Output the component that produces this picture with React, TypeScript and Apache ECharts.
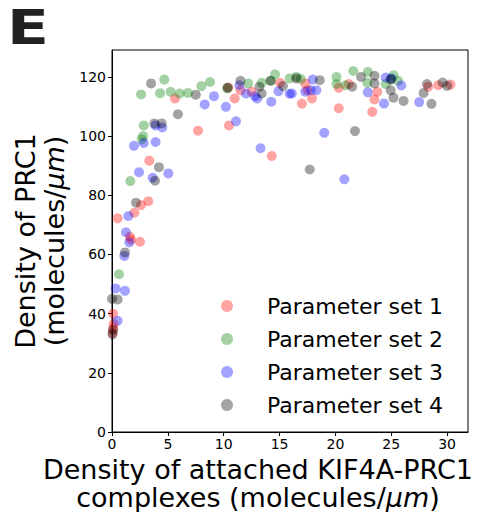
import React, { useEffect, useRef } from "react";
import * as echarts from "echarts";

// Density of attached KIF4A-PRC1 complexes (x) vs. density of PRC1 (y)
const set1: [number, number][] = [
  [0.05, 33.5], [0.1, 35], [0.15, 36.5], [0.1, 40], [0.5, 72.2], [1.6, 66], [1.7, 65],
  [2.0, 74.1], [2.5, 64.3], [2.6, 76.7], [3.25, 78], [3.34, 91.7], [5.64, 112.7],
  [7.7, 101.8], [10.47, 103.6], [10.98, 112.7], [10.4, 116.4], [11.5, 115.5], [12.5, 115],
  [14.3, 93.3], [15.04, 118], [17.3, 117.8], [17.0, 111], [17.9, 112.7], [17.5, 115.5],
  [20.3, 116.3], [20.3, 109.4], [21.2, 117.6], [23.3, 108.2], [23.5, 112.4], [23.75, 115],
  [28.3, 116.7], [29.2, 117.2], [30.3, 117.4],
];
const set2: [number, number][] = [
  [0.63, 53.3], [1.64, 84.8], [2.66, 98.9], [2.78, 100], [2.84, 103.6], [2.6, 114.1],
  [4.3, 114.5], [4.68, 119.1], [5.25, 115], [6.06, 114.4], [6.8, 114.6], [8.0, 116.9],
  [8.77, 118.3], [10.3, 116.2], [12.2, 117.8], [13.4, 118], [14.2, 118.7], [14.6, 120.9],
  [15.9, 119.5], [16.5, 120], [16.9, 119.3], [20.1, 120], [20.1, 117.6], [20.9, 117.2],
  [21.6, 122], [22.86, 118], [22.9, 121.7], [24.5, 117.6], [25.2, 120.6], [25.6, 118.7],
  [25.0, 119.3],
];
const set3: [number, number][] = [
  [0.5, 37.6], [0.33, 48.5], [1.16, 47.7], [1.1, 59.5], [1.25, 67.5], [1.55, 64.1],
  [1.46, 73], [1.97, 96.7], [2.84, 97.7], [2.42, 87.8], [3.64, 85.9], [3.9, 98],
  [3.9, 103.6], [4.5, 102.9], [5.04, 87.4], [8.3, 110.7], [9.13, 113.5], [10.2, 109.9],
  [11.1, 105], [11.4, 117.2], [12, 114.4], [12.8, 113.5], [13, 112.7], [13.3, 95.9],
  [14.26, 111.6], [14.9, 115.2], [15.9, 114.3], [16.1, 114.4], [17.3, 115], [17.8, 115.5],
  [18.3, 115.5], [17.97, 119.1], [19, 101.1], [20.8, 85.4], [22.9, 114.8], [24.35, 111],
  [24.5, 119.8], [25, 119.5], [25.9, 117.1], [27.5, 111.5],
];
const set4: [number, number][] = [
  [0.05, 33], [0.1, 34.5], [0, 45], [0.5, 44.8], [1.16, 60.7], [2.15, 77.5], [3.5, 117.8],
  [3.8, 104.3], [4.45, 104.3], [3.85, 84.9], [4.2, 89.5], [5.9, 107.4], [7.5, 114],
  [10.36, 116.3], [11.5, 118.7], [13.2, 116.7], [13.4, 114.4], [14.2, 118.7], [15.3, 116.9],
  [16.5, 119.5], [17.7, 88.7], [18.6, 118.9], [21.5, 116.7], [21.75, 101.7], [22.3, 120],
  [23.5, 120.4], [23.5, 117.8], [24.95, 119.1], [24.95, 115.5], [25.2, 113], [26.1, 111.9],
  [27.9, 114.6], [28.2, 117.6], [28.6, 110.9], [29.6, 118.1], [30, 117],
];

const seriesNames = ["Parameter set 1", "Parameter set 2", "Parameter set 3", "Parameter set 4"];
const seriesColors = [
  "rgba(255,0,0,0.45)",
  "rgba(0,128,0,0.45)",
  "rgba(0,0,255,0.45)",
  "rgba(0,0,0,0.45)",
];
const seriesData = [set1, set2, set3, set4];

const FONT = "DejaVu Sans";
const TITLE_SIZE = 27;

const makeRich = (lineHeight: number) => ({
  a: { fontFamily: FONT, fontSize: TITLE_SIZE, lineHeight, color: "#000", fill: "#000" },
  i: {
    fontFamily: FONT,
    fontSize: TITLE_SIZE,
    lineHeight,
    color: "#000",
    fill: "#000",
    fontStyle: "italic",
  },
});

export default function App() {
  const ref = useRef<HTMLDivElement>(null);

  useEffect(() => {
    if (!ref.current) return;
    document.body.style.margin = "0";
    const chart = echarts.init(ref.current, null, { renderer: "svg" });
    chart.setOption({
      animation: false,
      textStyle: { fontFamily: FONT, color: "#000" },
      grid: {
        left: 112,
        right: 22,
        top: 50,
        bottom: 80,
        outerBoundsMode: "none",
        containLabel: false,
        show: true,
        borderColor: "#000",
        borderWidth: 1,
      },
      graphic: [
        {
          type: "text",
          x: 7,
          y: 3,
          scaleX: 1.28,
          style: { text: "E", font: `bold 48px "${FONT}"`, fill: "#222" },
        },
        {
          // x-axis title, two lines
          type: "text",
          x: 258,
          y: 455,
          style: {
            text: "{a|Density of attached KIF4A-PRC1}\n{a|complexes (molecules/}{i|μm}{a|)}",
            rich: makeRich(28),
            align: "center",
            verticalAlign: "top",
            fill: "#000",
          },
        },
      ],
      legend: {
        orient: "vertical",
        left: 216,
        top: 289,
        itemWidth: 12,
        itemHeight: 12,
        itemGap: 9,
        icon: "circle",
        data: seriesNames,
        textStyle: {
          fontFamily: FONT,
          fontSize: 22,
          lineHeight: 24,
          color: "#000",
          padding: [0, 0, 0, 29],
        },
      },
      xAxis: {
        type: "value",
        min: 0,
        max: 31.87,
        interval: 5,
        splitLine: { show: false },
        axisLine: { show: true, onZero: false, lineStyle: { color: "#000" } },
        axisTick: { show: true, length: 4, lineStyle: { color: "#000" } },
        axisLabel: {
          fontFamily: FONT,
          fontSize: 14,
          color: "#000",
          margin: 5,
          showMaxLabel: false,
        },
      },
      yAxis: {
        type: "value",
        min: 0,
        max: 129.1,
        interval: 20,
        splitLine: { show: false },
        axisLine: { show: true, onZero: false, lineStyle: { color: "#000" } },
        axisTick: { show: true, length: 4, lineStyle: { color: "#000" } },
        axisLabel: {
          fontFamily: FONT,
          fontSize: 14,
          color: "#000",
          margin: 6,
          showMaxLabel: false,
        },
        name: "{a|Density of PRC1}\n{a|(molecules/}{i|μm}{a|)}",
        nameLocation: "middle",
        nameGap: 29,
        nameTextStyle: { rich: makeRich(29) },
      },
      series: seriesNames.map((name, i) => ({
        name,
        type: "scatter",
        data: seriesData[i],
        symbol: "circle",
        symbolSize: 10,
        itemStyle: { color: seriesColors[i] },
        emphasis: { disabled: true },
      })),
    });
    return () => chart.dispose();
  }, []);

  return <div ref={ref} style={{ width: 490, height: 512 }} />;
}
